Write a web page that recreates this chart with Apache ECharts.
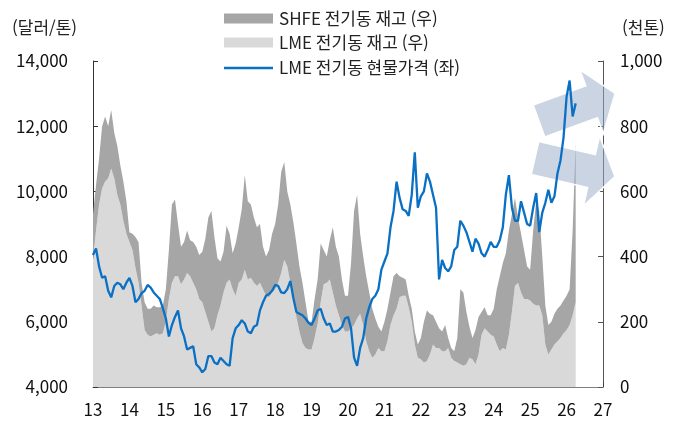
<!DOCTYPE html>
<html lang="ko">
<head>
<meta charset="UTF-8">
<title>LME 전기동 가격과 재고</title>
<script src="https://cdn.jsdelivr.net/npm/echarts@6/dist/echarts.min.js"></script>
<style>
  body { margin: 0; background: #fff; }
  #chart { width: 686px; height: 423px; }
</style>
</head>
<body>
<div id="chart"></div>
<script>
  // monthly points, Jan 2013 .. Apr 2026 (x axis = 2-digit year)
  const startYear = 13;
  const endYear = 27;

  // LME copper cash price, USD/t (left axis)
  const lmePrice = [
    8050, 8250, 7700, 7350, 7400, 6950, 6750, 7100, 7200, 7150, 7000, 7200,
    7350, 7100, 6600, 6700, 6880, 6950, 7130, 7050, 6900, 6800, 6700, 6420,
    6100, 5550, 5900, 6150, 6350, 5800, 5550, 5150, 5200, 5250, 4700, 4600,
    4450, 4550, 4950, 4950, 4750, 4700, 4900, 4800, 4700, 4650, 5500, 5800,
    5900, 6050, 5950, 5700, 5650, 5850, 5900, 6350, 6600, 6800, 6850, 6950,
    7130, 7100, 6900, 6880, 7000, 7250, 6730, 6300, 6250, 6200, 6100, 5970,
    5900, 6100, 6350, 6400, 6100, 5900, 5950, 5700, 5700, 5750, 5850, 6100,
    6150, 5800, 4900, 4650, 5200, 5500, 6100, 6450, 6700, 6800, 7000, 7600,
    7850, 8100, 8900, 9400, 10300, 9800, 9450, 9400, 9250, 9900, 11200, 9500,
    9850, 10000, 10550, 10300, 9900, 9500, 7300, 7900, 7650, 7550, 7700, 8200,
    8300, 9100, 8950, 8750, 8450, 8150, 8550, 8400, 8100, 8000, 8200, 8450,
    8300, 8300, 8500, 8900, 9900, 10500, 9500, 9100, 9100, 9700, 9350, 9000,
    8950, 9500, 9950, 8750, 9350, 9650, 10050, 9650, 9850, 10550, 10950, 11650,
    12900, 13400, 12300, 12700
  ];

  // LME copper stocks, thousand t (right axis, bottom layer)
  const lmeStock = [
    390, 480, 560, 610, 630, 640, 670, 640, 590, 560, 510, 470,
    445, 420, 365, 320, 250, 175, 160, 155, 160, 165, 160, 165,
    200, 270, 320, 340, 340, 315, 330, 350, 340, 320, 300, 270,
    260, 230, 200, 170, 180, 220, 250, 290, 320, 330, 300, 280,
    320, 330, 360, 330, 335, 320, 310, 320, 300, 280, 275, 290,
    300, 320, 350, 390, 370, 320, 280, 215, 170, 135, 120, 115,
    115, 150, 195, 260, 315, 320, 330, 290, 250, 220, 190, 170,
    170, 180, 190, 210, 225, 190, 140, 110, 90, 100, 120, 110,
    110, 140, 190, 220, 240, 275, 280, 280, 245, 200, 130, 90,
    85, 75, 80, 100, 130, 120, 120, 110, 110, 120, 90, 80,
    75, 70, 65, 70, 90, 85, 70, 100, 160, 180, 170, 160,
    155, 130, 110, 120, 115, 160, 230, 310, 320, 290, 270, 270,
    265, 255, 250, 250, 220, 130, 100, 115, 130, 140, 150, 165,
    175, 190, 220, 260
  ];

  // SHFE copper stocks, thousand t (right axis, stacked on LME)
  const shfeStock = [
    140, 140, 140, 190, 200, 160, 180, 140, 150, 120, 120, 100,
    30, 50, 95, 125, 70, 85, 80, 85, 90, 80, 85, 85,
    100, 150, 240, 235, 160, 115, 115, 130, 110, 125, 130, 135,
    155, 225, 320, 370, 280, 175, 135, 125, 175, 140, 110, 160,
    170, 215, 290, 240, 225, 200, 180, 180, 130, 120, 145, 180,
    200, 240, 310, 300, 230, 240, 225, 225, 200, 185, 140, 85,
    85, 120, 135, 180, 105, 80, 120, 200, 180, 180, 140, 110,
    110, 200, 350, 380, 245, 210, 200, 180, 150, 110, 65, 60,
    90, 100, 100, 120, 110, 65, 55, 50, 35, 40, 40, 40,
    65, 125, 155, 125, 90, 80, 60, 60, 80, 30, 30, 30,
    75, 230, 225, 160, 95, 65, 105, 115, 70, 65, 50, 60,
    85, 170, 230, 260, 295, 320, 300, 270, 200, 180, 150, 100,
    95, 225, 320, 290, 180, 120, 90, 85, 95, 100, 100, 100,
    105, 110, 260, 490
  ];

  const names = ['SHFE 전기동 재고 (우)', 'LME 전기동 재고 (우)', 'LME 전기동 현물가격 (좌)'];
  const colors = ['#a6a6a6', '#d9d9d9', '#0a70c4'];

  const FONT = 'Noto Sans CJK KR';

  // month categories from Jan 13 to Jan 27, so the category scale lines up with the year axis
  const months = [];
  for (let i = 0; i <= (endYear - startYear) * 12; i++) {
    months.push((startYear + Math.floor(i / 12)) + '.' + String(i % 12 + 1).padStart(2, '0'));
  }

  // block arrow outline, rotated around its tail centre
  function arrowPts(cx, cy, deg, L, h, hl, H) {
    const a = deg * Math.PI / 180;
    const ux = Math.cos(a), uy = Math.sin(a);
    const nx = Math.sin(a), ny = -Math.cos(a);
    const local = [[0, h], [L, h], [L, H], [L + hl, 0], [L, -H], [L, -h], [0, -h]];
    return local.map(p => [cx + p[0] * ux + p[1] * nx, cy + p[0] * uy + p[1] * ny]);
  }

  // hand-made legend (swatch + text per row)
  const legendRows = [
    { y: 18.5, h: 10 },
    { y: 42.5, h: 10 },
    { y: 68, h: 2.4 }
  ];
  const legendEls = [];
  legendRows.forEach((r, i) => {
    legendEls.push({
      type: 'rect', z: 20,
      shape: { x: 224, y: r.y - r.h / 2, width: 49, height: r.h },
      style: { fill: colors[i] }
    });
    legendEls.push({
      type: 'text', z: 20, x: 279, y: r.y,
      style: { text: names[i], font: '17px "' + FONT + '"', fill: '#222', verticalAlign: 'middle' }
    });
  });

  const arrowStyle = { fill: 'rgba(150,170,200,0.5)', stroke: '#fff', lineWidth: 1.5 };

  const chart = echarts.init(document.getElementById('chart'));
  const option = {
    animation: false,
    backgroundColor: '#fff',
    textStyle: { fontFamily: FONT },
    grid: { left: 93, right: 83, top: 61, bottom: 36 },
    xAxis: [
      {
        type: 'category',
        data: months,
        boundaryGap: false,
        show: false
      },
      {
        type: 'value',
        min: startYear,
        max: endYear,
        interval: 1,
        position: 'bottom',
        splitLine: { show: false },
        axisLine: { lineStyle: { color: '#808080' } },
        axisTick: { inside: true, length: 5, lineStyle: { color: '#404040' } },
        axisLabel: { fontFamily: FONT, fontSize: 17, color: '#111', margin: 14 }
      }
    ],
    yAxis: [
      {
        type: 'value',
        min: 4000,
        max: 14000,
        interval: 2000,
        splitLine: { show: false },
        axisLine: { show: true, lineStyle: { color: '#333' } },
        axisTick: { show: true, inside: true, length: 5, lineStyle: { color: '#333' } },
        axisLabel: {
          fontFamily: FONT, fontSize: 17, color: '#111', margin: 25,
          formatter: v => v.toLocaleString('en-US')
        }
      },
      {
        type: 'value',
        min: 0,
        max: 1000,
        interval: 200,
        splitLine: { show: false },
        axisLine: { show: true, lineStyle: { color: '#555' } },
        axisTick: { show: true, inside: true, length: 5, lineStyle: { color: '#555' } },
        axisLabel: {
          fontFamily: FONT, fontSize: 17, color: '#111', margin: 17,
          formatter: v => v.toLocaleString('en-US')
        }
      }
    ],
    series: [
      {
        name: names[1],
        type: 'line',
        xAxisIndex: 0,
        yAxisIndex: 1,
        stack: 'stock',
        symbol: 'none',
        lineStyle: { width: 0 },
        itemStyle: { color: colors[1] },
        areaStyle: { color: colors[1], opacity: 1 },
        z: 2,
        data: lmeStock
      },
      {
        name: names[0],
        type: 'line',
        xAxisIndex: 0,
        yAxisIndex: 1,
        stack: 'stock',
        symbol: 'none',
        lineStyle: { width: 0 },
        itemStyle: { color: colors[0] },
        areaStyle: { color: colors[0], opacity: 1 },
        z: 2,
        data: shfeStock
      },
      {
        name: names[2],
        type: 'line',
        xAxisIndex: 0,
        yAxisIndex: 0,
        symbol: 'none',
        lineStyle: { width: 2.3, color: colors[2] },
        itemStyle: { color: colors[2] },
        z: 10,
        data: lmePrice
      }
    ],
    graphic: {
      elements: legendEls.concat([
        {
          type: 'text', left: 12, top: 19, z: 20,
          style: { text: '(달러/톤)', font: '17px "' + FONT + '"', fill: '#222' }
        },
        {
          type: 'text', left: 622, top: 19, z: 20,
          style: { text: '(천톤)', font: '17px "' + FONT + '"', fill: '#222' }
        },
        {
          type: 'polygon', z: 5,
          shape: { points: arrowPts(535, 158, 13, 58, 17, 24, 36) },
          style: arrowStyle
        },
        {
          type: 'polygon', z: 5,
          shape: { points: arrowPts(539, 121, -20, 56, 17, 25, 34) },
          style: arrowStyle
        }
      ])
    }
  };
  chart.setOption(option);
</script>
</body>
</html>
